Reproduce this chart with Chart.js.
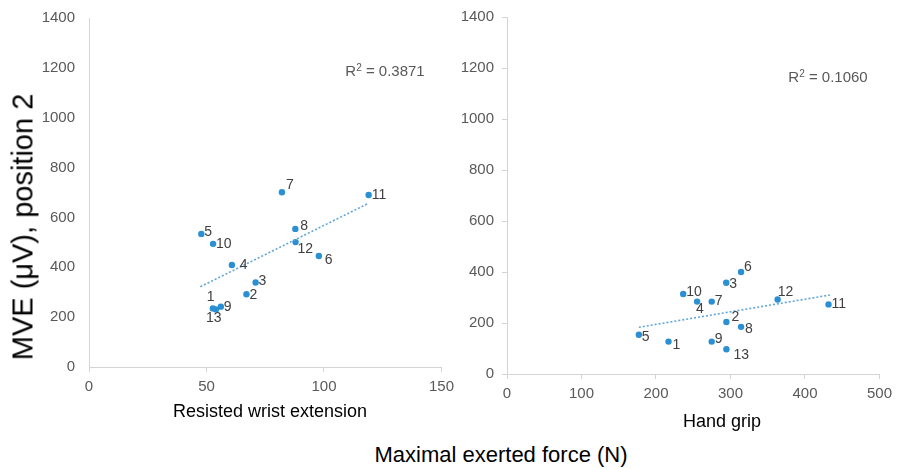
<!DOCTYPE html>
<html>
<head>
<meta charset="utf-8">
<script src="https://cdn.jsdelivr.net/npm/chart.js@4"></script>
<style>
  body { margin: 0; background: #fff; font-family: "Liberation Sans", Arial, sans-serif; }
  #wrap { position: relative; width: 898px; height: 469px; overflow: hidden; }
  canvas { position: absolute; top: 0; }
  .txt { position: absolute; white-space: nowrap; transform: translate(-50%, -50%); color: #000; }
  .r2 { font-size: 15px; color: #595959; }
  .r2 sup { font-size: 10px; vertical-align: 5px; line-height: 0; }
</style>
</head>
<body>
<div id="wrap">
  <canvas id="wristChart" width="460" height="440" style="left:0"></canvas>
  <canvas id="gripChart" width="448" height="440" style="left:450px"></canvas>
  <div class="txt" style="left:23px;top:227px;font-size:29px;transform:translate(-50%,-50%) rotate(-90deg)">MVE (μV), position 2</div>
  <div class="txt" style="left:270px;top:411px;font-size:18px">Resisted wrist extension</div>
  <div class="txt" style="left:722px;top:421px;font-size:18px">Hand grip</div>
  <div class="txt" style="left:501px;top:455px;font-size:22px">Maximal exerted force (N)</div>
  <div class="txt r2" style="left:385px;top:70px">R<sup>2</sup> = 0.3871</div>
  <div class="txt r2" style="left:828px;top:76px">R<sup>2</sup> = 0.1060</div>
</div>
<script>
// subject numbers 1..13
const pointLabels = ["1", "2", "3", "4", "5", "6", "7", "8", "9", "10", "11", "12", "13"];

// resisted wrist extension
const wristForce = [52.7, 67.0, 70.9, 60.8, 47.8, 97.8, 82.1, 87.8, 56.1, 52.8, 119.0, 87.9, 54.0];
const wristMve = [235, 292, 339, 409, 534, 445, 701, 554, 242, 494, 690, 501, 231];
const wristTrendX = [47.4, 118.4];
const wristTrendY = [322, 654];

// hand grip
const gripForce = [216.8, 294.5, 294.3, 255.2, 177, 314.2, 274.8, 314.2, 274.8, 236.5, 431.6, 363.3, 294.5];
const gripMve = [127, 204, 358, 284, 154, 400, 284, 185, 127, 314, 273, 292, 97];
const gripTrendX = [177, 433.5];
const gripTrendY = [183, 310];

const yTicks = [0, 200, 400, 600, 800, 1000, 1200, 1400];

// label placement next to each dot [dx, dy]
const wristOffsets = [[-6, -11], [3, 1], [3, -1], [8, 0], [3, -2], [6, 4], [4, -7], [5, -3], [3, 0], [3, 0], [3, 0], [2, 7], [-10, 9]];
const gripOffsets = [[4, 4], [5, -5], [3, 1], [-1, 8], [3, 2], [3, -5], [3, 0], [4, 2], [3, -2], [3, -2], [3, 0], [0, -7], [7, 6]];

const dotColor = "#2b8fd4";
const axisColor = "#d4d4d4";
const tickColor = "#595959";

const pointLabelPlugin = {
  id: "pointLabels",
  afterDatasetsDraw(chart, args, opts) {
    const ctx = chart.ctx;
    const meta = chart.getDatasetMeta(1);
    ctx.save();
    ctx.font = "14px 'Liberation Sans', Arial, sans-serif";
    ctx.fillStyle = "#404040";
    ctx.textBaseline = "middle";
    ctx.textAlign = "left";
    meta.data.forEach((pt, i) => {
      const off = opts.offsets[i];
      ctx.fillText(pointLabels[i], pt.x + off[0], pt.y + off[1]);
    });
    ctx.restore();
  }
};

function makeChart(id, xs, ys, tx, ty, xMax, xStep, box, yTickMarks, offsets) {
  const points = xs.map((x, i) => ({ x, y: ys[i] }));
  const trend = tx.map((x, i) => ({ x, y: ty[i] }));
  const font = { size: 15, family: "'Liberation Sans', Arial" };
  return new Chart(document.getElementById(id), {
    type: "scatter",
    data: {
      datasets: [
        { data: trend, showLine: true, borderColor: "#5fa6da", borderWidth: 1.6, borderDash: [2, 2], pointRadius: 0, fill: false },
        { data: points, backgroundColor: dotColor, borderWidth: 0, pointRadius: 3.2 }
      ]
    },
    options: {
      responsive: false,
      animation: false,
      layout: { padding: { top: box.top, right: box.right, left: 0, bottom: 0 } },
      plugins: { legend: { display: false }, tooltip: { enabled: false }, pointLabels: { offsets } },
      scales: {
        x: {
          type: "linear", min: 0, max: xMax,
          ticks: { stepSize: xStep, color: tickColor, font, padding: 6, callback: v => String(v) },
          grid: { drawOnChartArea: false, color: axisColor, tickLength: 5 },
          border: { color: axisColor },
          afterFit(s) { s.height = box.xh; }
        },
        y: {
          type: "linear", min: 0, max: 1400,
          afterBuildTicks(s) { s.ticks = yTicks.map(v => ({ value: v })); },
          ticks: { color: tickColor, font, padding: yTickMarks ? 8 : 9, callback: v => String(v) },
          grid: { drawOnChartArea: false, color: yTickMarks ? axisColor : "rgba(0,0,0,0)", tickLength: 5 },
          border: { color: axisColor },
          afterFit(s) { s.width = box.yw; }
        }
      }
    },
    plugins: [pointLabelPlugin]
  });
}

makeChart("wristChart", wristForce, wristMve, wristTrendX, wristTrendY, 150, 50,
  { top: 16, right: 14, xh: 73, yw: 89 }, false, wristOffsets);
makeChart("gripChart", gripForce, gripMve, gripTrendX, gripTrendY, 500, 100,
  { top: 15, right: 18, xh: 66, yw: 57 }, true, gripOffsets);
</script>
</body>
</html>
